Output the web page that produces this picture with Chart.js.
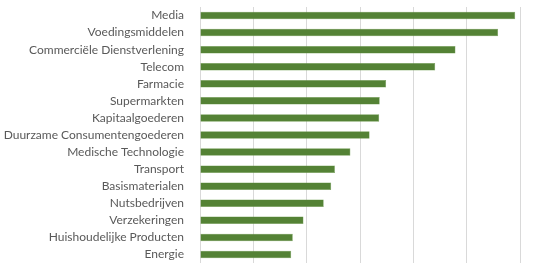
<!DOCTYPE html>
<html>
<head>
<meta charset="utf-8">
<script src="https://cdn.jsdelivr.net/npm/chart.js@4"></script>
<style>
html,body{margin:0;padding:0;background:#fff;overflow:hidden;}
canvas{display:block;}
</style>
</head>
<body>
<canvas id="c" width="533" height="271"></canvas>
<script>
const categories = ["Media","Voedingsmiddelen","Commerciële Dienstverlening","Telecom","Farmacie","Supermarkten","Kapitaalgoederen","Duurzame Consumentengoederen","Medische Technologie","Transport","Basismaterialen","Nutsbedrijven","Verzekeringen","Huishoudelijke Producten","Energie"];
const values = [5.91,5.59,4.79,4.41,3.49,3.37,3.36,3.18,2.82,2.53,2.46,2.32,1.94,1.74,1.71];

new Chart(document.getElementById('c'), {
  type: 'bar',
  data: {
    labels: categories,
    datasets: [{
      data: values,
      backgroundColor: '#548235',
      borderColor: '#6a9a4a',
      borderWidth: 0.5,
      barPercentage: 0.44,
      categoryPercentage: 1.0
    }]
  },
  options: {
    indexAxis: 'y',
    responsive: false,
    animation: false,
    layout: { padding: { top: 7, right: 13, bottom: 8, left: 0 } },
    plugins: { legend: { display: false }, tooltip: { enabled: false } },
    scales: {
      x: {
        min: 0, max: 6,
        ticks: { display: false, stepSize: 1 },
        grid: { color: '#d9d9d9', lineWidth: 1, drawTicks: false },
        border: { display: false },
        afterFit: (s) => { s.height = 0; s.paddingLeft = 0; s.paddingRight = 0; }
      },
      y: {
        ticks: { color: '#595959', font: { family: 'Lato', size: 12 }, padding: 16, autoSkip: false },
        grid: { display: false, drawTicks: false },
        border: { display: false },
        afterFit: (s) => { s.width = 200; s.paddingTop = 0; s.paddingBottom = 0; }
      }
    }
  }
});
</script>
</body>
</html>
